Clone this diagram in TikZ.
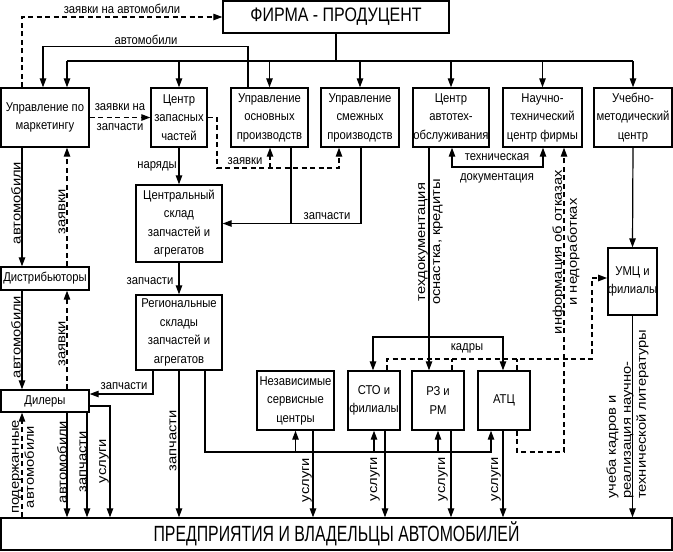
\documentclass[tikz,border=0pt]{standalone}
\usepackage{fontspec}
\setmainfont{Liberation Sans}[FakeStretch=0.88]
\newfontfamily\vfnt{Liberation Sans}[FakeStretch=1.15]
\newfontfamily\firmfnt{Liberation Sans}[FakeStretch=0.82]
\newfontfamily\entfnt{Liberation Sans}[FakeStretch=0.72]
\usetikzlibrary{arrows.meta}
\begin{document}
\begin{tikzpicture}[x=1pt,y=-1pt,
  box/.style={draw,line width=1.4pt,align=center,inner sep=0pt,font=\fontsize{12.8}{18.5}\selectfont},
  lbl/.style={inner sep=0pt,align=center,font=\fontsize{12.8}{20}\selectfont},
  vlbl/.style={inner sep=0pt,align=center,rotate=90,font=\vfnt\fontsize{12.8}{15}\selectfont},
  conn/.style={line width=1.2pt},
  arr/.style={conn,-{Triangle[length=9pt,width=6.5pt]}},
  biarr/.style={conn,{Triangle[length=9pt,width=6.5pt]}-{Triangle[length=9pt,width=6.5pt]}},
  dsh/.style={dash pattern=on 5pt off 3.5pt}
]
\useasboundingbox (0,0) rectangle (673,552);

% boxes
\node[box,minimum width=226pt,minimum height=32pt] (firma) at (336,17) {\firmfnt\fontsize{19.5}{20}\selectfont ФИРМА - ПРОДУЦЕНТ};
\node[box,minimum width=88pt,minimum height=59pt] (mkt) at (45,117.5) {Управление по\\маркетингу};
\node[box,minimum width=56pt,minimum height=59pt] (czch) at (179,117.5) {Центр\\запасных\\частей};
\node[box,minimum width=77pt,minimum height=59pt] (uop) at (269.5,117.5) {Управление\\основных\\производств};
\node[box,minimum width=78pt,minimum height=59pt] (usp) at (360,117.5) {Управление\\смежных\\производств};
\node[box,minimum width=76pt,minimum height=59pt] (cato) at (451,117.5) {Центр\\автотех-\\обслуживания};
\node[box,minimum width=79pt,minimum height=59pt] (ntc) at (542.5,117.5) {Научно-\\технический\\центр фирмы};
\node[box,minimum width=78pt,minimum height=59pt] (ucm) at (633,117.5) {Учебно-\\методический\\центр};
\node[box,minimum width=86pt,minimum height=77pt] (csk) at (179,223.5) {Центральный\\склад\\запчастей и\\агрегатов};
\node[box,minimum width=86pt,minimum height=75pt] (rsk) at (179,332.5) {Региональные\\склады\\запчастей и\\агрегатов};
\node[box,minimum width=88pt,minimum height=23pt] (dist) at (45,278.5) {Дистрибьюторы};
\node[box,minimum width=88pt,minimum height=22pt] (dil) at (45,401) {Дилеры};
\node[box,minimum width=77pt,minimum height=59pt] (nsc) at (295.5,400.5) {Независимые\\сервисные\\центры};
\node[box,minimum width=52pt,minimum height=59pt] (sto) at (374,400.5) {СТО и\\филиалы};
\node[box,minimum width=52pt,minimum height=59pt] (rz) at (438,400.5) {РЗ и\\РМ};
\node[box,minimum width=52pt,minimum height=59pt] (atc) at (504,400.5) {АТЦ};
\node[box,minimum width=49pt,minimum height=67pt] (umc) at (632.5,281.5) {УМЦ и\\филиалы};
\node[box,minimum width=671pt,minimum height=32pt] (ent) at (336.5,534) {\entfnt\fontsize{22}{22}\selectfont ПРЕДПРИЯТИЯ И ВЛАДЕЛЬЦЫ АВТОМОБИЛЕЙ};

% main distribution bus
\coordinate (busL) at (67,61);
\coordinate (busR) at (633,61);
\draw[conn] (firma.south) -- (firma.south |- busL);
\draw[conn] (busL) -- (busR);
\draw[arr] (busL) -- (mkt.north -| busL);
\draw[arr] (czch.north |- busL) -- (czch.north);
\draw[arr] (uop.north |- busL) -- (uop.north);
\draw[arr] (usp.north |- busL) -- (usp.north);
\draw[arr] (cato.north |- busL) -- (cato.north);
\draw[arr] (ntc.north |- busL) -- (ntc.north);
\draw[arr] (busR) -- (ucm.north);

% top connectors
\draw[arr,dsh] (mkt.north -| 22,0) |- (firma.west);
\draw[arr] (uop.north -| 248,0) -- ++(0,-41) -| (mkt.north -| 43,0);
\draw[arr,dsh] (mkt.east) -- (czch.west);
\draw[arr,dsh] (czch.east) -| (217,168) -| (usp.south -| 339,0);
\draw[arr,dsh] (270,168) -- (uop.south -| 270,0);
\coordinate (zj) at (291,224);
\draw[conn] (uop.south -| zj) -- (zj);
\draw[arr] (usp.south -| 361,0) |- (csk.east);
\draw[arr] (czch.south) -- (csk.north);
\draw[arr] (csk.south) -- (rsk.north);

% left column
\draw[arr] (mkt.south -| 22,0) -- (dist.north -| 22,0);
\draw[arr,dsh] (dist.north -| 67,0) -- (mkt.south -| 67,0);
\draw[arr] (dist.south -| 22,0) -- (dil.north -| 22,0);
\draw[arr,dsh] (dil.north -| 67,0) -- (dist.south -| 67,0);
\draw[arr] (rsk.south -| 153,0) |- (dil.east |- 0,394);
\draw[arr,dsh] (ent.north -| 22,0) -- (dil.south -| 22,0);
\draw[arr] (dil.south -| 67,0) -- (ent.north -| 67,0);
\draw[arr] (dil.south -| 87,0) -- (ent.north -| 87,0);
\draw[arr] (dil.east |- 0,406) -| (ent.north -| 110,0);
\draw[arr] (rsk.south) -- (ent.north -| rsk.south);

% service bus
\coordinate (sb) at (491,452);
\draw[arr] (rsk.south -| 205,0) |- (sb) -- (atc.south -| sb);
\draw[arr] (nsc.south |- sb) -- (nsc.south);
\draw[arr] (sto.south |- sb) -- (sto.south);
\draw[arr] (rz.south |- sb) -- (rz.south);
\draw[arr] (nsc.south -| 313,0) -- (ent.north -| 313,0);
\draw[arr] (sto.south -| 385,0) -- (ent.north -| 385,0);
\draw[arr] (rz.south -| 451,0) -- (ent.north -| 451,0);
\draw[arr] (atc.south -| 503,0) -- (ent.north -| 503,0);

% right part
\draw[arr] (cato.south -| 429,0) -- (rz.north -| 429,0);
\draw[biarr] (cato.south -| 452,0) |- (497,167) -| (ntc.south -| 543,0);
\draw[biarr] (sto.north -| 373,0) |- (438,337) -| (atc.north -| 503,0);
\draw[arr,dsh] (sto.north -| 387,0) |- (592,359) |- (umc.west |- 0,278);
\draw[conn,dsh] (rz.north -| 452,0) -- (452,359);
\draw[conn,dsh] (atc.north -| 517,0) -- (517,359);
\draw[arr,dsh] (atc.south -| 517,0) |- (564,452) -- (ntc.south -| 564,0);
\draw[arr] (ucm.south) -- (umc.north);
\draw[arr] (umc.south) -- (ent.north -| umc.south);

% labels
\node[lbl] (l1) at (122,9) {заявки на автомобили};
\node[lbl] (l2) at (146,40) {автомобили};
\node[lbl] (l3) at (120,117) {заявки на\\запчасти};
\node[lbl] (l4) at (157,166) {наряды};
\node[lbl] (l5) at (245,161) {заявки};
\node[lbl] (l6) at (327,216) {запчасти};
\node[lbl] (l7) at (150,281) {запчасти};
\node[lbl] (l8) at (124,386) {запчасти};
\node[lbl] (l9) at (497,168) {техническая\\документация};
\node[lbl] (l10) at (467,348) {кадры};
\node[vlbl] (v1) at (16,203) {автомобили};
\node[vlbl] (v2) at (62,212) {заявки};
\node[vlbl] (v3) at (16,337) {автомобили};
\node[vlbl] (v4) at (62,344) {заявки};
\node[vlbl] (v5) at (23,467) {подержанные\\автомобили};
\node[vlbl] (v6) at (62,462) {автомобили};
\node[vlbl] (v7) at (83,462) {запчасти};
\node[vlbl] (v8) at (104,461) {услуги};
\node[vlbl] (v9) at (173,441) {запчасти};
\node[vlbl] (v10) at (307,480) {услуги};
\node[vlbl] (v11) at (375,479) {услуги};
\node[vlbl] (v12) at (443,479) {услуги};
\node[vlbl] (v13) at (496,479) {услуги};
\node[vlbl] (v14) at (430.5,242) {техдокументация\\оснастка, кредиты};
\node[vlbl] (v15) at (566,252) {информация об отказах\\и недоработках};
\node[vlbl,align=left,anchor=west] (v16) at (627.5,499) {учеба кадров и\\реализация научно-\\технической литературы};
\end{tikzpicture}
\end{document}
